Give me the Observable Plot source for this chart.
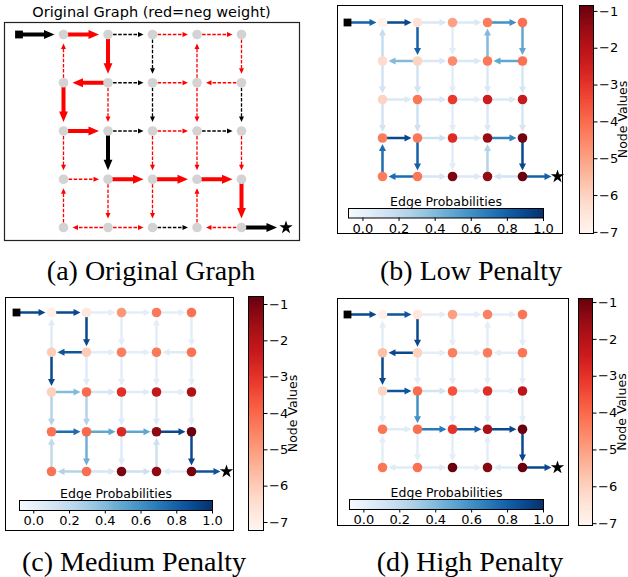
<!DOCTYPE html>
<html><head><meta charset="utf-8">
<script src="https://cdn.jsdelivr.net/npm/d3@7"></script>
<script src="https://cdn.jsdelivr.net/npm/@observablehq/plot@0.6"></script>
<style>
html,body{margin:0;padding:0;background:#fff;}
#fig{position:relative;width:628px;height:577px;overflow:hidden;}
.cap{font-family:"Liberation Serif","Times New Roman",serif;font-size:28px;white-space:nowrap;transform:translate(-50%,-50%);color:#000;}
.ttl{font-family:"DejaVu Sans",sans-serif;font-size:14.5px;white-space:nowrap;transform:translate(-50%,-50%);color:#000;}
</style></head><body><div id="fig"></div>
<script>
// ---------------- data ----------------
const rows = [0, 1, 2, 3, 4];
const cols = [0, 1, 2, 3, 4];
const startNode = [0, -1];   // [row, col]
const goalNode = [4, 5];

// directed edges of the original graph, [row, col]
const edgeFrom = [[0,-1],[0,0],[0,1],[0,2],[0,3],[1,0],[0,1],[0,2],[1,3],[0,4],[1,1],[1,1],[1,2],[1,4],[1,0],[1,1],[1,2],[1,3],[1,4],[2,0],[2,1],[2,2],[2,3],[2,0],[2,1],[2,2],[2,3],[2,4],[3,0],[3,1],[3,2],[3,3],[4,0],[3,1],[3,2],[4,3],[3,4],[4,1],[4,1],[4,2],[4,4],[4,4]];
const edgeTo   = [[0,0],[0,1],[0,2],[0,3],[0,4],[0,0],[1,1],[1,2],[0,3],[1,4],[1,0],[1,2],[1,3],[1,3],[2,0],[2,1],[2,2],[2,3],[2,4],[2,1],[2,2],[2,3],[2,4],[3,0],[3,1],[3,2],[3,3],[3,4],[3,1],[3,2],[3,3],[3,4],[3,0],[4,1],[4,2],[3,3],[4,4],[4,0],[4,2],[4,3],[4,3],[4,5]];
const edgeSign = ["pos","neg","pos","neg","neg","neg","neg","pos","neg","neg","neg","pos","neg","neg","neg","neg","pos","neg","pos","neg","pos","neg","pos","neg","pos","neg","neg","neg","neg","neg","neg","neg","neg","neg","neg","neg","neg","neg","neg","pos","neg","pos"];
const edgeKind = ["strong","strong","weak","weak","weak","weak","strong","weak","weak","weak","strong","weak","weak","weak","strong","weak","weak","weak","weak","strong","weak","weak","weak","weak","strong","weak","weak","weak","weak","strong","strong","strong","weak","weak","weak","weak","strong","weak","weak","weak","weak","strong"];

// edge probabilities
const probLow    = [0.8,0.9,0.08,0.08,0.6,0.18,0.8,0.04,0.4,0.5,0.4,0.08,0.08,0.5,0.12,0.12,0.04,0.08,0.1,0.07,0.07,0.04,0.07,0.12,0.14,0.04,0.07,0.1,0.9,0.14,0.08,0.65,0.75,0.8,0.04,0.25,0.9,0.75,0.1,0.07,0.12,0.8];
const probMedium = [0.9,0.9,0.03,0.03,0.03,0.05,0.9,0.03,0.03,0.03,0.85,0.03,0.03,0.05,0.9,0.05,0.03,0.03,0.03,0.4,0.1,0.05,0.03,0.25,0.25,0.05,0.05,0.03,0.75,0.5,0.5,0.9,0.2,0.45,0.05,0.15,0.9,0.25,0.1,0.15,0.05,0.85];
const probHigh   = [0.9,0.85,0.03,0.03,0.03,0.03,0.9,0.03,0.03,0.03,0.9,0.03,0.03,0.03,0.9,0.03,0.03,0.03,0.03,0.85,0.12,0.03,0.03,0.03,0.6,0.03,0.03,0.03,0.05,0.7,0.8,0.9,0.03,0.03,0.03,0.03,0.9,0.05,0.05,0.03,0.05,0.9];

// node values
const valuesLow = [
  [-6.9, -6.4, -5.0, -4.3, -4.1],
  [-6.2, -6.0, -4.6, -4.2, -4.1],
  [-6.0, -4.2, -3.1, -2.4, -2.3],
  [-4.3, -4.2, -2.8, -1.5, -1.0],
  [-4.3, -4.2, -1.1, -1.4, -0.9]];
const valuesMedium = [
  [-7.0, -6.7, -4.9, -4.3, -4.2],
  [-6.0, -6.0, -4.4, -4.3, -4.2],
  [-6.1, -4.0, -2.9, -2.2, -1.8],
  [-4.2, -4.0, -2.7, -1.3, -0.8],
  [-4.2, -4.1, -1.0, -1.3, -0.9]];
const valuesHigh = [
  [-6.9, -6.6, -5.0, -4.4, -4.2],
  [-5.6, -6.0, -4.4, -4.3, -4.2],
  [-6.1, -4.0, -3.6, -2.9, -2.1],
  [-4.2, -4.1, -3.0, -1.8, -0.9],
  [-4.2, -4.1, -0.9, -1.3, -0.9]];

const probDomain = [-0.08, 1.0];
const probTicks = [0.0, 0.2, 0.4, 0.6, 0.8, 1.0];
const valueTicks = [-1, -2, -3, -4, -5, -6, -7];
const domainLow = [-7.03, -0.84];
const domainMedium = [-7.22, -0.78];
const domainHigh = [-7.05, -0.89];

const titleA = "Original Graph (red=neg weight)";
const captions = ["(a) Original Graph", "(b) Low Penalty", "(c) Medium Penalty", "(d) High Penalty"];

// ---------------- helpers ----------------
const figEl = document.getElementById("fig");
function put(el, left, top) { el.style.position = "absolute"; el.style.left = left + "px"; el.style.top = top + "px"; figEl.appendChild(el); return el; }
function textDiv(text, cls, x, y) { const d = document.createElement("div"); d.className = cls; d.textContent = text; put(d, x, y); }

function makeEdges(probs) {
  return edgeFrom.map((f, i) => {
    const t = edgeTo[i];
    return {r1: f[0], c1: f[1], r2: t[0], c2: t[1], sign: edgeSign[i], kind: edgeKind[i],
            p: probs ? probs[i] : null,
            angle: Math.atan2(t[1] - f[1], -(t[0] - f[0])) * 180 / Math.PI};
  }).sort((a, b) => (a.p ?? 0) - (b.p ?? 0));
}
function makeNodes(values) {
  return rows.flatMap(r => cols.map(c => ({r, c, v: values ? values[r][c] : null})));
}
// arrow-head symbol: tip `gap` px before the target, pointing "up" before rotation
function head(gap, half) {
  return {draw(ctx, size) {
    const L = Math.sqrt(size / Math.PI);
    ctx.moveTo(0, gap); ctx.lineTo(-half * L, gap + L); ctx.lineTo(half * L, gap + L); ctx.closePath();
  }};
}
const baseStyle = {background: "transparent", overflow: "visible", fontFamily: "DejaVu Sans, sans-serif", fontSize: "13px", color: "black"};
function frameOpts(g) {
  return {
    width: g.R - g.L + 2, height: g.B - g.T + 2, margin: 1,
    x: {domain: [(g.L - g.x0) / g.dx, (g.R - g.x0) / g.dx], axis: null},
    y: {domain: [(g.T - g.y0) / g.dy, (g.B - g.y0) / g.dy], reverse: true, axis: null},
    style: baseStyle
  };
}
const xy = {x1: "c1", y1: "r1", x2: "c2", y2: "r2"};

// ---------------- panel (a) ----------------
const gA = {L: 4, T: 22, R: 299, B: 240, x0: 63, dx: 44.5, y0: 34, dy: 48.25};
const edgesA = makeEdges(null);
const weak = d => d.kind === "weak", strong = d => d.kind === "strong";
put(Plot.plot({
  ...frameOpts(gA),
  color: {domain: ["neg", "pos"], range: ["#ff0000", "#000000"]},
  marks: [
    Plot.frame({stroke: "#222", strokeWidth: 1.2}),
    Plot.arrow(edgesA, {filter: weak, ...xy, stroke: "sign", strokeWidth: 1.3, strokeDasharray: "3.5,1.6", strokeLinecap: "butt", headLength: 0, insetEnd: 12}),
    Plot.dot(edgesA, {filter: weak, x: "c2", y: "r2", symbol: head(9, 0.45), r: 5.5, rotate: "angle", fill: "sign"}),
    Plot.arrow(edgesA, {filter: strong, ...xy, stroke: "sign", strokeWidth: 4, strokeLinecap: "butt", headLength: 0, insetEnd: 16}),
    Plot.dot(edgesA, {filter: strong, x: "c2", y: "r2", symbol: head(9, 0.42), r: 10.5, rotate: "angle", fill: "sign"}),
    Plot.dot(makeNodes(null), {x: "c", y: "r", r: 4.8, fill: "#d3d3d3"}),
    Plot.dot([startNode], {x: d => d[1], y: d => d[0], symbol: "square", r: 4.4, fill: "#000"}),
    Plot.dot([goalNode], {x: d => d[1], y: d => d[0], symbol: "star", r: 4.2, fill: "#000"})
  ]
}), gA.L - 1, gA.T - 1);
textDiv(titleA, "ttl", 151.5, 11.5);

// ---------------- probability panels ----------------
function hbar(left, top, w, h) {
  const mL = 14, mR = 14, mT = 18, mB = 22;
  put(Plot.plot({
    width: w + mL + mR, height: h + mT + mB, marginLeft: mL, marginRight: mR, marginTop: mT, marginBottom: mB,
    x: {domain: probDomain}, y: {domain: [0, 1], axis: null},
    color: {type: "linear", scheme: "blues", domain: probDomain},
    style: baseStyle,
    marks: [
      Plot.raster({fill: (x, y) => x, x1: probDomain[0], x2: probDomain[1], y1: 0, y2: 1, width: 256, height: 1}),
      Plot.frame({stroke: "#000", strokeWidth: 1}),
      Plot.axisX({ticks: probTicks, tickFormat: d3.format(".1f"), tickSize: 3.5, tickPadding: 2, label: null}),
      Plot.text(["Edge Probabilities"], {frameAnchor: "top", dy: -3, lineAnchor: "bottom", fontSize: 12.5})
    ]
  }), left - mL, top - mT);
}
function vbar(left, top, w, h, domain) {
  const mL = 1, mR = 50, mT = 8, mB = 8;
  put(Plot.plot({
    width: w + mL + mR, height: h + mT + mB, marginLeft: mL, marginRight: mR, marginTop: mT, marginBottom: mB,
    x: {domain: [0, 1], axis: null}, y: {domain},
    color: {type: "linear", scheme: "reds", domain},
    style: baseStyle,
    marks: [
      Plot.raster({fill: (x, y) => y, x1: 0, x2: 1, y1: domain[0], y2: domain[1], width: 1, height: 256}),
      Plot.frame({stroke: "#000", strokeWidth: 1}),
      Plot.axisY({anchor: "right", ticks: valueTicks, tickFormat: d3.format("d"), tickSize: 3.5, tickPadding: 2, label: null}),
      Plot.text(["Node Values"], {frameAnchor: "right", textAnchor: "middle", lineAnchor: "middle", rotate: -90, dx: 29, fontSize: 12.5})
    ]
  }), left - mL, top - mT);
}
function probPanel(g, probs, values, domain, hb, vb) {
  const edges = makeEdges(probs);
  put(Plot.plot({
    ...frameOpts(g),
    color: {type: "linear", scheme: "blues", domain: probDomain},
    marks: [
      Plot.frame({stroke: "#000", strokeWidth: 1}),
      Plot.arrow(edges, {...xy, stroke: "p", strokeWidth: 2.5, strokeLinecap: "butt", headLength: 0, insetEnd: 10}),
      Plot.dot(edges, {x: "c2", y: "r2", symbol: head(6, 0.5), r: 7, rotate: "angle", fill: "p"})
    ]
  }), g.L - 1, g.T - 1);
  put(Plot.plot({
    ...frameOpts(g),
    color: {type: "linear", scheme: "reds", domain},
    marks: [
      Plot.dot(makeNodes(values), {x: "c", y: "r", r: 4.8, fill: "v"}),
      Plot.dot([startNode], {x: d => d[1], y: d => d[0], symbol: "square", r: 4.4, fill: "#000"}),
      Plot.dot([goalNode], {x: d => d[1], y: d => d[0], symbol: "star", r: 4.2, fill: "#000"})
    ]
  }), g.L - 1, g.T - 1);
  hbar(...hb);
  vbar(...vb, domain);
}

probPanel({L: 337, T: 5, R: 562, B: 233, x0: 382, dx: 35, y0: 22, dy: 38.5},
  probLow, valuesLow, domainLow, [348, 208, 195, 9.5], [579, 5, 14, 228]);
probPanel({L: 5, T: 297, R: 233, B: 530, x0: 51, dx: 35, y0: 312, dy: 39.75},
  probMedium, valuesMedium, domainMedium, [19, 500, 193, 10], [248, 296, 15, 234]);
probPanel({L: 337, T: 298, R: 568, B: 525, x0: 382, dx: 35, y0: 314, dy: 38.25},
  probHigh, valuesHigh, domainHigh, [349, 499, 194, 10], [578, 298, 14, 227]);

textDiv(captions[0], "cap", 151, 271);
textDiv(captions[1], "cap", 471, 271);
textDiv(captions[2], "cap", 134, 562);
textDiv(captions[3], "cap", 470, 562);
</script></body></html>
